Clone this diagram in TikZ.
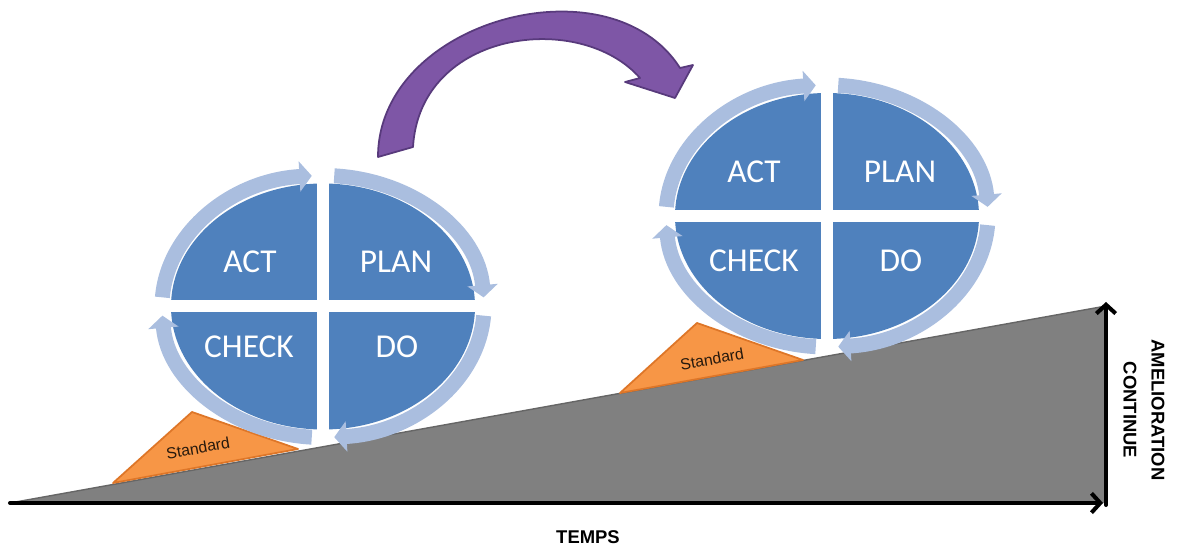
\documentclass[tikz,border=0pt]{standalone}
\usepackage{fontspec}
\newfontfamily\calib{Carlito}
\newfontfamily\arialb{Liberation Sans}
\usetikzlibrary{arrows.meta}
\definecolor{pdcablue}{RGB}{79,129,189}
\definecolor{pdcaring}{RGB}{170,190,223}
\definecolor{stdorange}{RGB}{247,150,70}
\definecolor{stdedge}{RGB}{222,118,40}
\definecolor{slopegray}{RGB}{128,128,128}
\definecolor{arcpurple}{RGB}{126,86,166}
\definecolor{arcedge}{RGB}{88,58,124}

\begin{document}
\begin{tikzpicture}[x={(0.02cm,0)},y={(0,0.02cm)},
  cyclelbl/.style={text=white,font=\calib\fontsize{19}{21}\selectfont,inner sep=0pt},
  cyclering/.style={draw=pdcaring,line width=8.5pt,-{Triangle[length=7pt,width=17pt]}},
  stdtri/.style={fill=stdorange,draw=stdedge,line width=1pt,line join=round},
  stdlbl/.style={font=\arialb\fontsize{9}{10}\selectfont,text=black!80!brown,rotate=10,inner sep=0pt},
  axisline/.style={line width=2.3pt,line cap=round,-{Straight Barb[length=5pt,width=11pt]}},
  axislbl/.style={font=\arialb\bfseries\fontsize{10.5}{16}\selectfont,inner sep=0pt,align=center}]
\useasboundingbox (0,0) rectangle (1177,548);

% pente et axes
\coordinate (o) at (10,45);
\coordinate (xend) at (1103,45);
\coordinate (ybase) at (1106,43);
\coordinate (ytop) at (1106,246);
\coordinate (slopetop) at (1106,242);
\fill[slopegray] (o) -- (slopetop) -- (1106,45) -- cycle;
\draw[black!60,line width=0.8pt] (o) -- (slopetop);
\draw[axisline] (o) -- (xend);
\draw[axisline] (ybase) -- (ytop);
\node[axislbl] (temps) at (588,11) {TEMPS};
\node[axislbl,rotate=-90] (amelio) at (1144,138) {AMELIORATION\\CONTINUE};

% standards
\draw[stdtri] (113,65) -- (192,136) -- (298,99) -- cycle;
\node[stdlbl] (std1) at (198,100) {Standard};
\draw[stdtri] (620,155) -- (697,225) -- (803,188) -- cycle;
\node[stdlbl] (std2) at (712,189) {Standard};

% roue 1
\coordinate (c1) at (323,241.5);
\fill[pdcablue] (c1) ellipse[x radius=152,y radius=123];
\fill[white] (c1) ++(-6,-125) rectangle ++(12,250);
\fill[white] (c1) ++(-154,-6) rectangle ++(308,12);
\draw[cyclering] (c1) ++(176:161 and 131) arc[start angle=176,end angle=94,x radius=161,y radius=131];
\draw[cyclering] (c1) ++(86:161 and 131) arc[start angle=86,end angle=4,x radius=161,y radius=131];
\draw[cyclering] (c1) ++(-4:161 and 131) arc[start angle=-4,end angle=-86,x radius=161,y radius=131];
\draw[cyclering] (c1) ++(266:161 and 131) arc[start angle=266,end angle=184,x radius=161,y radius=131];
\node[cyclelbl] (act1) at (250,286) {ACT};
\node[cyclelbl] (plan1) at (396,286) {PLAN};
\node[cyclelbl] (check1) at (249,201) {CHECK};
\node[cyclelbl] (do1) at (397,201) {DO};

% roue 2
\coordinate (c2) at (827,332);
\fill[pdcablue] (c2) ellipse[x radius=152,y radius=123];
\fill[white] (c2) ++(-6,-125) rectangle ++(12,250);
\fill[white] (c2) ++(-154,-6) rectangle ++(308,12);
\draw[cyclering] (c2) ++(176:161 and 131) arc[start angle=176,end angle=94,x radius=161,y radius=131];
\draw[cyclering] (c2) ++(86:161 and 131) arc[start angle=86,end angle=4,x radius=161,y radius=131];
\draw[cyclering] (c2) ++(-4:161 and 131) arc[start angle=-4,end angle=-86,x radius=161,y radius=131];
\draw[cyclering] (c2) ++(266:161 and 131) arc[start angle=266,end angle=184,x radius=161,y radius=131];
\node[cyclelbl] (act2) at (754,376) {ACT};
\node[cyclelbl] (plan2) at (900,376) {PLAN};
\node[cyclelbl] (check2) at (754,287) {CHECK};
\node[cyclelbl] (do2) at (901,287) {DO};

% fleche violette
\filldraw[fill=arcpurple,draw=arcedge,line width=1pt,line join=round]
  (378,391) .. controls (378,528) and (610,590) .. (680,480)
  -- (693,483) -- (675,450) -- (625,466) -- (640,470)
  .. controls (580,538) and (420,518) .. (413,401) -- cycle;
\end{tikzpicture}
\end{document}
